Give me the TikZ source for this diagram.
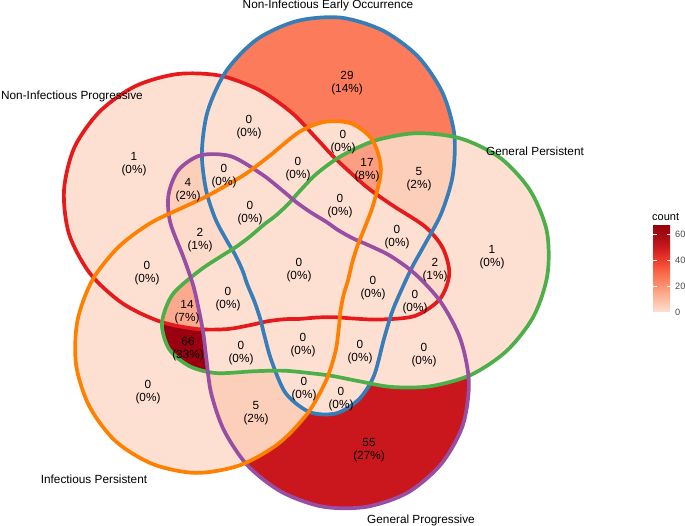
\documentclass[tikz,border=0pt]{standalone}
\usepackage{fontspec}
\setmainfont{Liberation Sans}
\definecolor{cz}{HTML}{FEE0D3}
\definecolor{ctwo}{HTML}{FDDACA}
\definecolor{cfive}{HTML}{FCCFBB}
\definecolor{cfourteen}{HTML}{FBAA8F}
\definecolor{cseventeen}{HTML}{FB9E82}
\definecolor{ctwentynine}{HTML}{FB7B5B}
\definecolor{cfiftyfive}{HTML}{CA171D}
\definecolor{csixtysix}{HTML}{9A0010}
\definecolor{lred}{HTML}{E41A1C}
\definecolor{lblue}{HTML}{377EB8}
\definecolor{lgreen}{HTML}{4DAF4A}
\definecolor{lpurple}{HTML}{984EA3}
\definecolor{lorange}{HTML}{FF7F00}
\definecolor{gA}{HTML}{FEE0D2}
\definecolor{gB}{HTML}{FCBBA1}
\definecolor{gC}{HTML}{FC9272}
\definecolor{gD}{HTML}{FB6A4A}
\definecolor{gE}{HTML}{EF3B2C}
\definecolor{gF}{HTML}{CB181D}
\definecolor{gG}{HTML}{A50F15}
\definecolor{gH}{HTML}{99000D}
\pgfdeclareverticalshading{cntshade}{100bp}{color(0bp)=(gA); color(25bp)=(gA); color(32.6bp)=(gB); color(40.2bp)=(gC); color(47.7bp)=(gD); color(55.3bp)=(gE); color(62.9bp)=(gF); color(68.9bp)=(gG); color(75bp)=(gH); color(100bp)=(gH)}
\begin{document}
\begin{tikzpicture}[x=1pt,y=-1pt,
  cnt/.style={align=center,inner sep=0pt,font=\fontsize{11.8}{12.6}\selectfont},
  setlab/.style={anchor=base,inner sep=0pt,font=\fontsize{11.8}{13}\selectfont},
  outl/.style={line width=3.7pt,line join=round},
  shB/.style={shift={(297,266)}},
  shG/.style={shift={(297,266)},rotate=-72},
  shP/.style={shift={(297,266)},rotate=-144},
  shO/.style={shift={(297,266)},rotate=-216},
  shR/.style={shift={(297,266)},rotate=-288}]
\useasboundingbox (0,0) rectangle (685,526);
\def\pBase{plot[smooth cycle] coordinates {(0:115.7) (-10:130.3) (-20:153.5) (-30:179.7) (-40:205.3) (-50:226.3) (-60:241.9) (-70:250.6) (-80:252.2) (-90:245) (-100:230.2) (-110:207.3) (-120:178.7) (-130:148) (-140:118.8) (-150:94.3) (-160:74.8) (-170:62.6) (-185:54.6) (-200:53) (-220:55.5) (-235:64.2) (-245:77) (-255:98.3) (-265:127.9) (-275:146.7) (-285:152.5) (-295:146.9) (-305:134.1) (-320:113.5) (-335:105.5) (-350:108.4)}}
% base fill
\foreach \s in {shR,shB,shG,shO,shP} {\fill[cz,\s] \pBase;}
% one set
\begin{scope}\clip[shB] \pBase; \fill[ctwentynine] (0,0) rectangle (685,526);
 \foreach \s in {shR,shG,shO,shP} {\fill[cz,\s] \pBase;} \end{scope}
\begin{scope}\clip[shP] \pBase; \fill[cfiftyfive] (0,0) rectangle (685,526);
 \foreach \s in {shR,shG,shO,shB} {\fill[cz,\s] \pBase;} \end{scope}
% two sets
\begin{scope}\clip[shB] \pBase; \clip[shG] \pBase; \fill[cfive] (0,0) rectangle (685,526);
 \foreach \s in {shR,shO,shP} {\fill[cz,\s] \pBase;} \end{scope}
\begin{scope}\clip[shR] \pBase; \clip[shP] \pBase; \fill[cfive] (0,0) rectangle (685,526);
 \foreach \s in {shB,shO,shG} {\fill[cz,\s] \pBase;} \end{scope}
\begin{scope}\clip[shO] \pBase; \clip[shP] \pBase; \fill[cfive] (0,0) rectangle (685,526);
 \foreach \s in {shB,shR,shG} {\fill[cz,\s] \pBase;} \end{scope}
\begin{scope}\clip[shG] \pBase; \clip[shO] \pBase; \fill[csixtysix] (0,0) rectangle (685,526);
 \foreach \s in {shB,shR,shP} {\fill[cz,\s] \pBase;} \end{scope}
\begin{scope}\clip[shR] \pBase; \clip[shG] \pBase; \fill[ctwo] (0,0) rectangle (685,526);
 \foreach \s in {shB,shO,shP} {\fill[cz,\s] \pBase;} \end{scope}
% three sets
\begin{scope}\clip[shB] \pBase; \clip[shG] \pBase; \clip[shO] \pBase; \fill[cseventeen] (0,0) rectangle (685,526);
 \foreach \s in {shR,shP} {\fill[cz,\s] \pBase;} \end{scope}
\begin{scope}\clip[shR] \pBase; \clip[shP] \pBase; \clip[shO] \pBase; \fill[ctwo] (0,0) rectangle (685,526);
 \foreach \s in {shB,shG} {\fill[cz,\s] \pBase;} \end{scope}
\begin{scope}\clip[shR] \pBase; \clip[shG] \pBase; \clip[shO] \pBase; \fill[cfourteen] (0,0) rectangle (685,526);
 \foreach \s in {shB,shP} {\fill[cz,\s] \pBase;} \end{scope}
% outlines
\draw[outl,lred,shR] \pBase;
\draw[outl,lblue,shB] \pBase;
\draw[outl,lgreen,shG] \pBase;
\draw[outl,lpurple,shP] \pBase;
\draw[outl,lorange,shO] \pBase;
% counts
\node[cnt] (r1) at (347,83) {29\\(14\%)};
\node[cnt] (r2) at (134,164) {1\\(0\%)};
\node[cnt] (r3) at (249,127) {0\\(0\%)};
\node[cnt] (r4) at (343,142) {0\\(0\%)};
\node[cnt] (r5) at (367,170) {17\\(8\%)};
\node[cnt] (r6) at (419,179) {5\\(2\%)};
\node[cnt] (r7) at (224,176) {0\\(0\%)};
\node[cnt] (r8) at (298,169) {0\\(0\%)};
\node[cnt] (r9) at (188,190) {4\\(2\%)};
\node[cnt] (r10) at (250,213) {0\\(0\%)};
\node[cnt] (r11) at (340,206) {0\\(0\%)};
\node[cnt] (r12) at (200,240) {2\\(1\%)};
\node[cnt] (r13) at (397,237) {0\\(0\%)};
\node[cnt] (r14) at (147,273) {0\\(0\%)};
\node[cnt] (r15) at (299,270) {0\\(0\%)};
\node[cnt] (r16) at (435,270) {2\\(1\%)};
\node[cnt] (r17) at (373,288) {0\\(0\%)};
\node[cnt] (r18) at (492,257) {1\\(0\%)};
\node[cnt] (r19) at (228,299) {0\\(0\%)};
\node[cnt] (r20) at (415,302) {0\\(0\%)};
\node[cnt] (r21) at (187,312) {14\\(7\%)};
\node[cnt] (r22) at (188,349) {66\\(33\%)};
\node[cnt] (r23) at (241,353) {0\\(0\%)};
\node[cnt] (r24) at (303,345) {0\\(0\%)};
\node[cnt] (r25) at (360,352) {0\\(0\%)};
\node[cnt] (r26) at (424,355) {0\\(0\%)};
\node[cnt] (r27) at (148,392) {0\\(0\%)};
\node[cnt] (r28) at (304,389) {0\\(0\%)};
\node[cnt] (r29) at (341,399) {0\\(0\%)};
\node[cnt] (r30) at (256,413) {5\\(2\%)};
\node[cnt] (r31) at (369,450) {55\\(27\%)};
% set labels
\node[setlab] (sB) at (328,9) {Non-Infectious Early Occurrence};
\node[setlab] (sR) at (72,100) {Non-Infectious Progressive};
\node[setlab] (sG) at (535,156) {General Persistent};
\node[setlab] (sO) at (94,483) {Infectious Persistent};
\node[setlab] (sP) at (421,523) {General Progressive};
% legend
\node[anchor=west,inner sep=0pt,font=\fontsize{11}{13}\selectfont] (ltitle) at (652,217) {count};
\shade[shading=cntshade] (653,226) rectangle (670,312);
\foreach \v in {0,20,40,60}{
  \draw[white,line width=0.6pt] (653,312-1.3*\v) -- (656.5,312-1.3*\v);
  \draw[white,line width=0.6pt] (666.5,312-1.3*\v) -- (670,312-1.3*\v);
  \node[anchor=west,inner sep=0pt,text=black!70,font=\fontsize{9.2}{11}\selectfont] (t\v) at (675,312-1.3*\v) {\v};
}
\end{tikzpicture}
\end{document}
